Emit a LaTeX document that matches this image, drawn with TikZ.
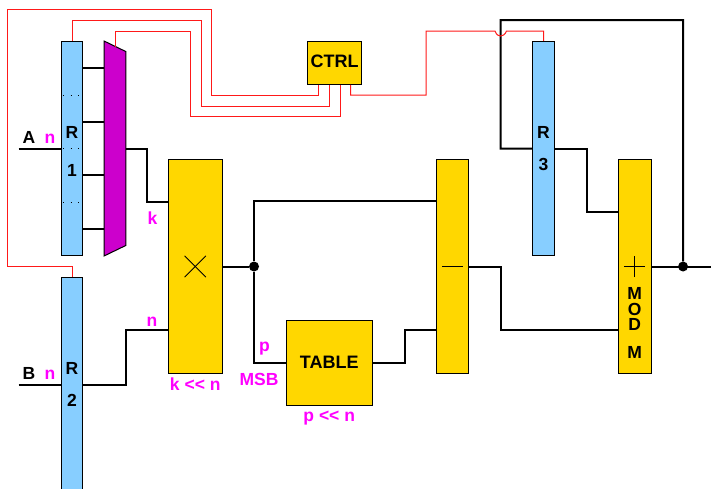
\documentclass[tikz,border=0pt]{standalone}
\usepackage{fontspec}
\setmainfont[Ligatures=NoCommon]{Liberation Sans}
\usetikzlibrary{positioning}
\definecolor{regblue}{HTML}{87CEFF}
\definecolor{unityellow}{HTML}{FFD700}
\definecolor{muxpurple}{HTML}{CC00CC}
\definecolor{lblmagenta}{HTML}{FF00FF}
\tikzset{
  reg/.style={draw,line width=1pt,fill=regblue,minimum width=21.5pt,minimum height=214.5pt,inner sep=0pt},
  unit/.style={draw,line width=1pt,fill=unityellow,inner sep=0pt,font=\fontsize{18}{20}\selectfont\bfseries,text height=10pt,text depth=0pt},
  txt/.style={inner sep=0pt,font=\fontsize{17.5}{20}\selectfont\bfseries,text height=12pt,text depth=0pt},
  lbl/.style={txt,text=lblmagenta},
  wire/.style={line width=2pt},
  ctl/.style={line width=1pt,red!90!white},
  sign/.style={line width=0.75pt},
  junction/.style={circle,fill,inner sep=0pt,minimum size=10pt}
}

\begin{document}
\begin{tikzpicture}[x=1pt,y=-1pt,on grid]
  \clip (0,0) rectangle (711,488);
  \node[reg] (r1) at (72,148.5) {};
  \node[minimum width=21.3pt,minimum height=214.5pt,inner sep=0pt] (mux) [right = 43pt of r1] {};
  \node[reg] (r2) [below = 236pt of r1] {};
  \node[unit,minimum width=53.5pt,minimum height=214pt] (mult) [below right = 118pt and 123.25pt of r1] {};
  \node[unit,minimum width=54pt,minimum height=43pt] (ctrl) [above right = 85.7pt and 262.7pt of r1] {CTRL};
  \node[unit,minimum width=85.5pt,minimum height=85.7pt] (table) [below right = 96.5pt and 134pt of mult] {TABLE};
  \node[unit,minimum width=32pt,minimum height=214.5pt] (sub) [right = 257.5pt of mult] {};
  \node[unit,minimum width=32.7pt,minimum height=214.5pt] (add) [right = 182pt of sub] {};
  \node[reg] (r3) [above left = 118pt and 91.2pt of add] {};
  \node[junction] (jmult) [right = 58.75pt of mult] {};
  \node[junction] (jadd) [right = 48.3pt of add] {};

  % mux body
  \fill[muxpurple] (mux.north west) -- ([yshift=-10.5pt]mux.north east) -- ([yshift=10.5pt]mux.south east) -- (mux.south west) -- cycle;
  \draw[line width=1pt] (mux.north west) -- ([yshift=-10.5pt]mux.north east) -- ([yshift=10.5pt]mux.south east) -- (mux.south west) -- cycle;

  % ports
  \coordinate (ain) at (18.5,148.5);
  \coordinate (bin) at (18.5,384.5);
  \coordinate (out) at (711,266.5);
  \coordinate (multk) at ([yshift=-42.5pt]mult.north west);
  \coordinate (multn) at ([yshift=-171pt]mult.north west);
  \coordinate (subp) at ([yshift=-42.7pt]sub.north west);
  \coordinate (subt) at ([yshift=-171.4pt]sub.north west);
  \coordinate (addr) at ([yshift=-53.7pt]add.north west);
  \coordinate (adds) at ([yshift=-171.4pt]add.north west);

  % black wires
  \foreach \d in {68,122,175,229}
    \draw[wire] (r1.east |- 0,\d) -- (mux.west |- 0,\d);
  \draw[wire] (ain) -- (r1.west);
  \draw[wire] (bin) -- (r2.west);
  \draw[wire] (mux.east) -- (147,148.5) |- (multk);
  \draw[wire] (r2.east) -- (125.7,384.5) |- (multn);
  \draw[wire] (mult.east) -- (jmult);
  \draw[wire] (jmult) |- (subp);
  \draw[wire] (jmult) |- (table.west);
  \draw[wire] (table.east) -- (404.5,363) |- (subt);
  \draw[wire] (sub.east) -- (501,266.5) |- (adds);
  \draw[wire] (r3.east) -- (586.5,148.5) |- (addr);
  \draw[wire] (add.east) -- (out);
  \draw[wire] (jadd) -- (683,20) -- (500.5,20) |- (r3.west);

  % control lines
  \draw[ctl] (r2.north) -- (72,266.5) -- (7.5,266.5) -- (7.5,9.5) -- (211.5,9.5) -- (211.5,95) -- (318.7,95) -- (ctrl.south -| 318.7,0);
  \draw[ctl] (r1.north) -- (72,20) -- (201,20) -- (201,106) -- (329.5,106) -- (ctrl.south -| 329.5,0);
  \draw[ctl] (115,47) -- (115,31) -- (190,31) -- (190,116.5) -- (340.5,116.5) -- (ctrl.south -| 340.5,0);
  \draw[ctl] (ctrl.south -| 350.7,0) -- (350.7,95) -- (426,95) -- (426,31) -- (495,31)
    .. controls (496.5,35) and (498.5,36) .. (500.5,36) .. controls (502.5,36) and (505,35) .. (506.5,31)
    -- (543.5,31) -- (r3.north);

  % dots in r1
  \foreach \d in {95,148.5,202}
    \draw[line width=1pt,dash pattern=on 1pt off 6.7pt] (63,\d) -- (80,\d);

  % signs
  \draw[sign] ([shift={(-10.7,-10.7)}]mult.center) -- ([shift={(10.7,10.7)}]mult.center);
  \draw[sign] ([shift={(-10.7,10.7)}]mult.center) -- ([shift={(10.7,-10.7)}]mult.center);
  \draw[sign] ([xshift=-10.7pt]sub.center) -- ([xshift=10.7pt]sub.center);
  \draw[sign] ([xshift=-10.7pt]add.center) -- ([xshift=10.7pt]add.center);
  \draw[sign] ([yshift=-10.7pt]add.center) -- ([yshift=10.7pt]add.center);

  % texts
  \node[txt] (r1a) [above = 16.5pt of r1] {R};
  \node[txt] (r1b) [below = 21.5pt of r1] {1};
  \node[txt] (r2a) [above = 16.5pt of r2] {R};
  \node[txt] (r2b) [below = 16pt of r2] {2};
  \node[txt] (r3a) [above = 16.5pt of r3] {R};
  \node[txt] (r3b) [below = 15.5pt of r3] {3};
  \node[inner sep=0pt,align=center,font=\fontsize{17.5}{15.5}\selectfont\bfseries] (modm) [below = 56.25pt of add] {M\\O\\D\\[12pt]M};
  \node[txt] (ainl) [above left = 11pt and 43pt of r1] {A};
  \node[txt] (binl) [above left = 11pt and 43pt of r2] {B};

  \node[lbl] (ainn) [above left = 11pt and 22pt of r1] {n};
  \node[lbl] (binn) [above left = 11pt and 22pt of r2] {n};
  \node[lbl] (kin) [above left = 48.5pt and 42.75pt of mult] {k};
  \node[lbl] (nin) [below left = 54.2pt and 43.25pt of mult] {n};
  \node[lbl] (kout) [below = 117.5pt of mult] {k {<}{<} n};
  \node[lbl] (pin) [above left = 17.3pt and 64.75pt of table] {p};
  \node[lbl] (msb) [below left = 16pt and 70.25pt of table] {MSB};
  \node[lbl] (pout) [below = 52.7pt of table] {p {<}{<} n};
\end{tikzpicture}
\end{document}
